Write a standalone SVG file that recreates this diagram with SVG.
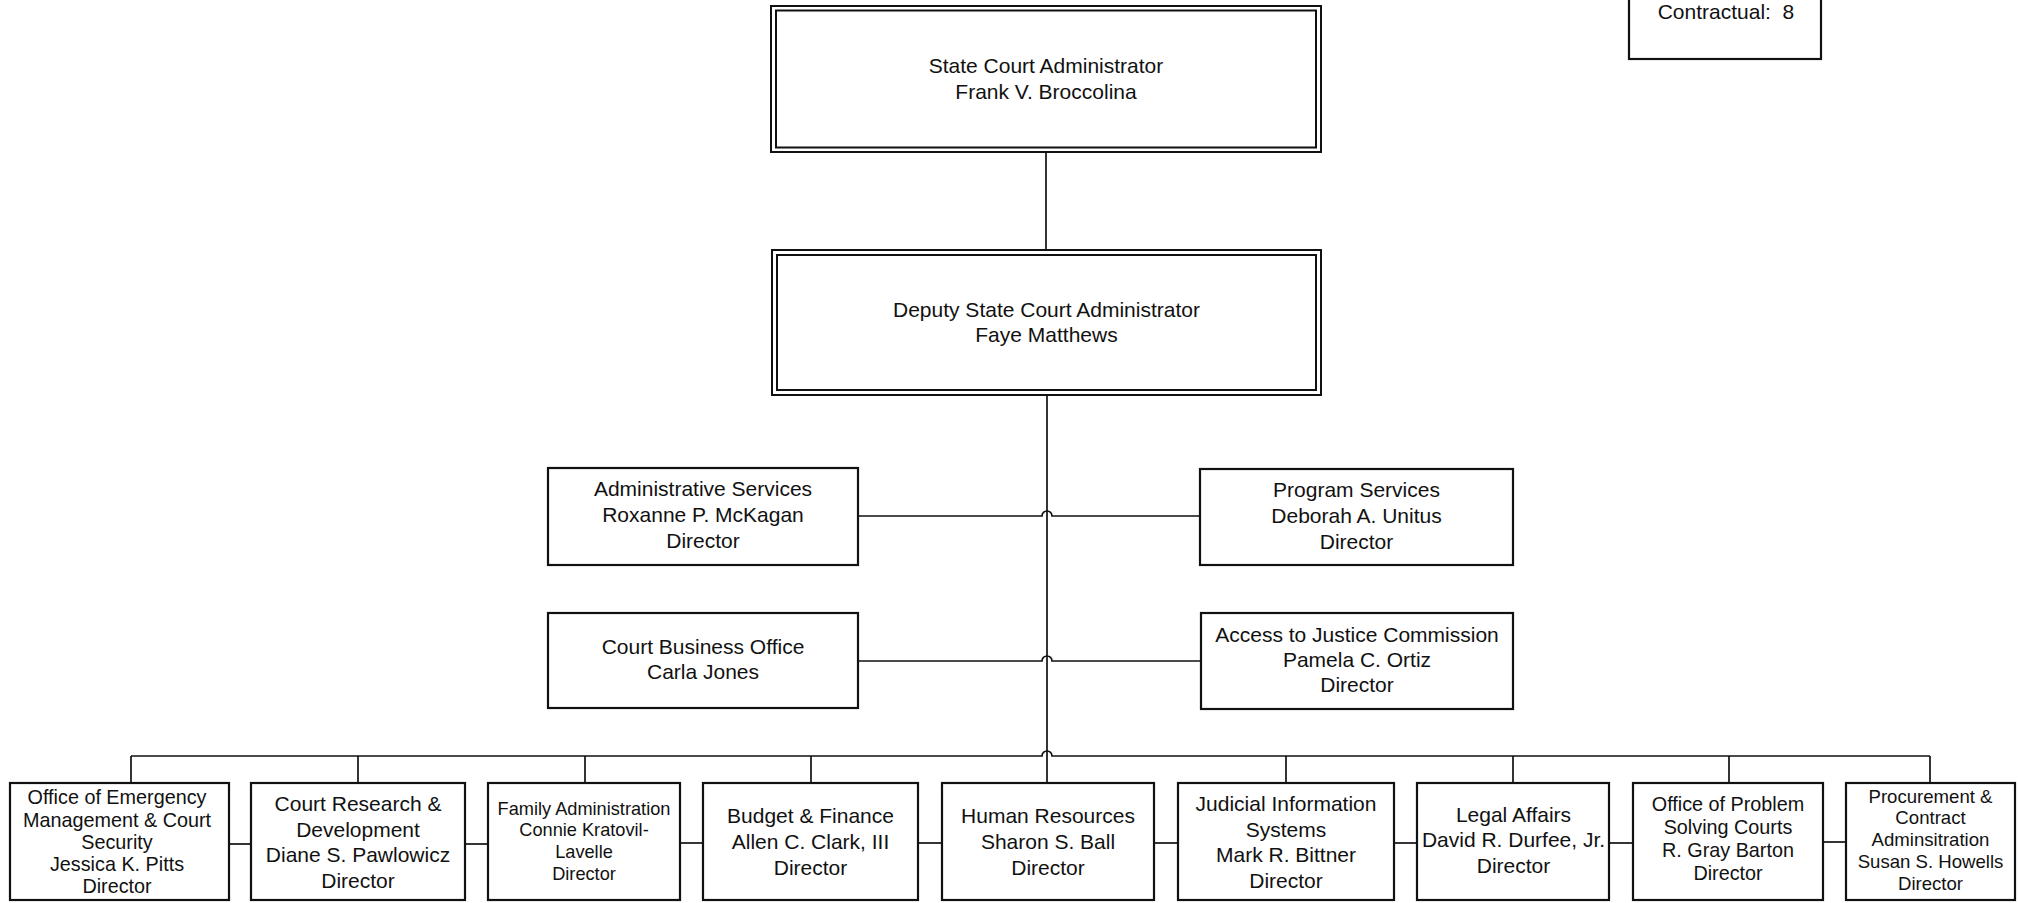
<svg xmlns="http://www.w3.org/2000/svg" width="2018" height="903" viewBox="0 0 2018 903">
<style>
  .box{fill:#fff;stroke:#111;stroke-width:2.2}
  .dbl{fill:none;stroke:#111;stroke-width:2}
  .ln{fill:none;stroke:#111;stroke-width:1.7}
  text{font-family:"Liberation Sans",Arial,sans-serif;fill:#111;text-anchor:middle}
  .f21{font-size:21px}
  .f20{font-size:19.8px}
  .f18{font-size:18.2px}
  .f186{font-size:18.6px}
</style>
<rect width="2018" height="903" fill="#fff"/>

<g id="connectors">
  <line class="ln" x1="1046" y1="152" x2="1046" y2="250"/>
  <line class="ln" x1="1047" y1="395" x2="1047" y2="783"/>
  <path class="ln" d="M858 516 H1042 a5 5 0 0 1 10 0 H1200"/>
  <path class="ln" d="M858 661 H1042 a5 5 0 0 1 10 0 H1201"/>
  <path class="ln" d="M131 756 H1042 a5 5 0 0 1 10 0 H1930"/>
  <line class="ln" x1="131" y1="756" x2="131" y2="783"/>
  <line class="ln" x1="358" y1="756" x2="358" y2="783"/>
  <line class="ln" x1="585" y1="756" x2="585" y2="783"/>
  <line class="ln" x1="811" y1="756" x2="811" y2="783"/>
  <line class="ln" x1="1286" y1="756" x2="1286" y2="783"/>
  <line class="ln" x1="1513" y1="756" x2="1513" y2="783"/>
  <line class="ln" x1="1729" y1="756" x2="1729" y2="783"/>
  <line class="ln" x1="1930" y1="756" x2="1930" y2="783"/>
  <line class="ln" x1="229" y1="844" x2="251" y2="844"/>
  <line class="ln" x1="465" y1="844" x2="488" y2="844"/>
  <line class="ln" x1="680" y1="843" x2="703" y2="843"/>
  <line class="ln" x1="918" y1="843" x2="942" y2="843"/>
  <line class="ln" x1="1154" y1="843" x2="1178" y2="843"/>
  <line class="ln" x1="1394" y1="843" x2="1417" y2="843"/>
  <line class="ln" x1="1609" y1="843" x2="1633" y2="843"/>
  <line class="ln" x1="1823" y1="842" x2="1846" y2="842"/>
</g>

<g id="contractual">
  <rect class="box" x="1629" y="-10" width="192" height="69"/>
  <text class="f21" x="1726" y="19">Contractual:&#160; 8</text>
</g>

<g id="state-court-administrator">
  <rect class="dbl" x="771" y="6" width="550" height="146"/>
  <rect class="dbl" x="776" y="10.5" width="540" height="137"/>
  <text class="f21" x="1046" y="73">State Court Administrator</text>
  <text class="f21" x="1046" y="99">Frank V. Broccolina</text>
</g>

<g id="deputy-administrator">
  <rect class="dbl" x="772" y="250" width="549" height="145"/>
  <rect class="dbl" x="777" y="255" width="539" height="135"/>
  <text class="f21" x="1046.5" y="317">Deputy State Court Administrator</text>
  <text class="f21" x="1046.5" y="342">Faye Matthews</text>
</g>

<g id="administrative-services">
  <rect class="box" x="548" y="468" width="310" height="97"/>
  <text class="f21" x="703" y="496">Administrative Services</text>
  <text class="f21" x="703" y="522">Roxanne P. McKagan</text>
  <text class="f21" x="703" y="548">Director</text>
</g>

<g id="program-services">
  <rect class="box" x="1200" y="469" width="313" height="96"/>
  <text class="f21" x="1356.5" y="497">Program Services</text>
  <text class="f21" x="1356.5" y="523">Deborah A. Unitus</text>
  <text class="f21" x="1356.5" y="549">Director</text>
</g>

<g id="court-business-office">
  <rect class="box" x="548" y="613" width="310" height="95"/>
  <text class="f21" x="703" y="654">Court Business Office</text>
  <text class="f21" x="703" y="679">Carla Jones</text>
</g>

<g id="access-to-justice">
  <rect class="box" x="1201" y="613" width="312" height="96"/>
  <text class="f21" x="1357" y="642">Access to Justice Commission</text>
  <text class="f21" x="1357" y="667">Pamela C. Ortiz</text>
  <text class="f21" x="1357" y="692">Director</text>
</g>

<g id="emergency-management">
  <rect class="box" x="10" y="783" width="219" height="117"/>
  <text class="f20" x="117" y="804">Office of Emergency</text>
  <text class="f20" x="117" y="827">Management &amp; Court</text>
  <text class="f20" x="117" y="849">Security</text>
  <text class="f20" x="117" y="871">Jessica K. Pitts</text>
  <text class="f20" x="117" y="893">Director</text>
</g>

<g id="court-research">
  <rect class="box" x="251" y="783" width="214" height="117"/>
  <text class="f21" x="358" y="811">Court Research &amp;</text>
  <text class="f21" x="358" y="837">Development</text>
  <text class="f21" x="358" y="862">Diane S. Pawlowicz</text>
  <text class="f21" x="358" y="888">Director</text>
</g>

<g id="family-administration">
  <rect class="box" x="488" y="783" width="192" height="117"/>
  <text class="f18" x="584" y="815">Family Administration</text>
  <text class="f18" x="584" y="836">Connie Kratovil-</text>
  <text class="f18" x="584" y="858">Lavelle</text>
  <text class="f18" x="584" y="880">Director</text>
</g>

<g id="budget-finance">
  <rect class="box" x="703" y="783" width="215" height="117"/>
  <text class="f21" x="810.5" y="823">Budget &amp; Finance</text>
  <text class="f21" x="810.5" y="849">Allen C. Clark, III</text>
  <text class="f21" x="810.5" y="875">Director</text>
</g>

<g id="human-resources">
  <rect class="box" x="942" y="783" width="212" height="117"/>
  <text class="f21" x="1048" y="823">Human Resources</text>
  <text class="f21" x="1048" y="849">Sharon S. Ball</text>
  <text class="f21" x="1048" y="875">Director</text>
</g>

<g id="judicial-information-systems">
  <rect class="box" x="1178" y="783" width="216" height="117"/>
  <text class="f21" x="1286" y="811">Judicial Information</text>
  <text class="f21" x="1286" y="837">Systems</text>
  <text class="f21" x="1286" y="862">Mark R. Bittner</text>
  <text class="f21" x="1286" y="888">Director</text>
</g>

<g id="legal-affairs">
  <rect class="box" x="1417" y="783" width="192" height="117"/>
  <text class="f21" x="1513.5" y="822">Legal Affairs</text>
  <text class="f21" x="1513.5" y="847">David R. Durfee, Jr.</text>
  <text class="f21" x="1513.5" y="873">Director</text>
</g>

<g id="problem-solving-courts">
  <rect class="box" x="1633" y="783" width="190" height="117"/>
  <text class="f20" x="1728" y="811">Office of Problem</text>
  <text class="f20" x="1728" y="834">Solving Courts</text>
  <text class="f20" x="1728" y="857">R. Gray Barton</text>
  <text class="f20" x="1728" y="880">Director</text>
</g>

<g id="procurement">
  <rect class="box" x="1846" y="783" width="169" height="117"/>
  <text class="f186" x="1930.5" y="803">Procurement &amp;</text>
  <text class="f186" x="1930.5" y="824">Contract</text>
  <text class="f186" x="1930.5" y="846">Adminsitration</text>
  <text class="f186" x="1930.5" y="868">Susan S. Howells</text>
  <text class="f186" x="1930.5" y="890">Director</text>
</g>
</svg>
